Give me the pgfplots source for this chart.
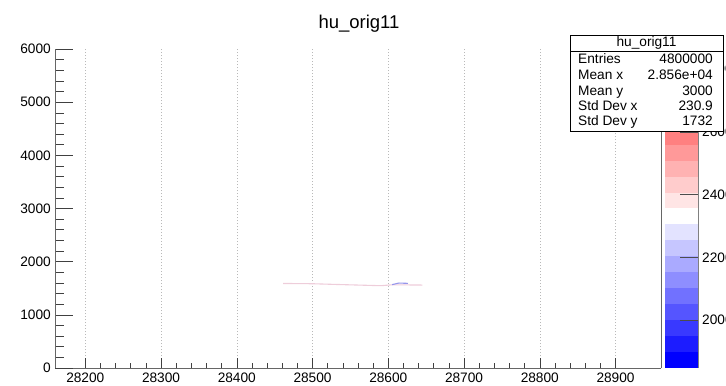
\documentclass[border=0pt]{standalone}
\usepackage{pgfplots}
\pgfplotsset{compat=1.18}
\usepackage{fontspec}
\setmainfont{Liberation Sans}
\newcommand\tl{\fontsize{13.7bp}{16bp}\selectfont}
\newcommand\band[3]{\addplot[draw=none, fill=#3] coordinates {(0,#1) (1,#1) (1,#2) (0,#2)} --cycle;}
\pgfplotsset{
  every axis/.append style={
    scale only axis, anchor=south west,
    axis line style={-},
    tick label style={font=\tl},
    /pgf/number format/assume math mode=true,
    scaled ticks=false,
    tick align=inside,
  }
}
\begin{document}
\begin{tikzpicture}
\path[use as bounding box] (0,0) rectangle (726bp,386bp);
% main axis: x ticks, grid, data
\begin{axis}[
  at={(55bp,18bp)}, width=606bp, height=319bp,
  xmin=28160, xmax=28960, ymin=0, ymax=6000,
  axis x line*=bottom, axis y line=none,
  x axis line style={black!60, line width=0.8bp},
  xtick={28200,28300,28400,28500,28600,28700,28800,28900},
  xticklabels={28200,28300,28400,28500,28600,28700,28800,28900},
  minor x tick num=4,
  major tick length=9.6bp, minor tick length=4.8bp,
  xtick style={black!75, line width=0.6bp},
  ytick=\empty,
  xmajorgrids,
  grid style={gray!55, line width=0.5bp, dash pattern=on 1.5bp off 1.5bp},
  xticklabel style={inner sep=0pt, yshift=-5bp},
  clip=false,
]
\addplot[color={rgb,255:red,238;green,205;blue,218}, line width=1.1bp] coordinates {
(28461,1590) (28500,1585) (28530,1572) (28560,1560) (28590,1548) (28605,1565) (28645,1560)};
\addplot[color={rgb,255:red,150;green,150;blue,235}, line width=1.1bp] coordinates {
(28605,1568) (28614,1598) (28626,1592)};
\draw[black!60, line width=0.8bp] (rel axis cs:1,0) -- (rel axis cs:1,1);
\end{axis}
% y ticks
\begin{axis}[
  at={(55bp,18bp)}, width=606bp, height=319bp,
  xmin=28160, xmax=28960, ymin=0, ymax=6000,
  axis x line=none, axis y line*=left,
  y axis line style={black!60, line width=0.8bp},
  xtick=\empty,
  ytick={0,1000,2000,3000,4000,5000,6000},
  yticklabels={0,1000,2000,3000,4000,5000,6000},
  minor y tick num=4,
  major tick length=18bp, minor tick length=9bp,
  ytick style={black!75, line width=0.6bp},
  yticklabel style={inner sep=0pt, xshift=-4bp},
]
\end{axis}
% colour bar
\begin{axis}[
  at={(665bp,18bp)}, width=33bp, height=319bp,
  xmin=0, xmax=1, ymin=1848, ymax=2864,
  axis x line=none, axis y line*=right,
  y axis line style={black!50, line width=0.5bp},
  axis on top,
  xtick=\empty,
  ytick={2000,2200,2400,2600,2800},
  yticklabels={2000,2200,2400,2600,2800},
  major tick length=18bp,
  ytick style={black!70, line width=0.6bp},
  yticklabel style={anchor=west, inner sep=0pt, xshift=4bp},
  clip=false,
]
\band{1848}{1898.8}{blue}
\band{1898.8}{1949.6}{blue!88.9!white}
\band{1949.6}{2000.4}{blue!77.8!white}
\band{2000.4}{2051.2}{blue!66.7!white}
\band{2051.2}{2102}{blue!55.6!white}
\band{2102}{2152.8}{blue!44.4!white}
\band{2152.8}{2203.6}{blue!33.3!white}
\band{2203.6}{2254.4}{blue!22.2!white}
\band{2254.4}{2305.2}{blue!11.1!white}
\band{2305.2}{2356}{white}
\band{2356}{2406.8}{red!10!white}
\band{2406.8}{2457.6}{red!20!white}
\band{2457.6}{2508.4}{red!30!white}
\band{2508.4}{2559.2}{red!40!white}
\band{2559.2}{2610}{red!50!white}
\band{2610}{2660.8}{red!60!white}
\band{2660.8}{2711.6}{red!70!white}
\band{2711.6}{2762.4}{red!80!white}
\band{2762.4}{2813.2}{red!90!white}
\band{2813.2}{2864}{red}
\end{axis}
% title
\node[anchor=base, font=\fontsize{18.5bp}{22bp}\selectfont] at (359bp,357bp) {hu\_orig11};
% stats box
\draw[fill=white, line width=0.7bp] (570bp,255bp) rectangle (723bp,351bp);
\draw[line width=0.7bp] (570bp,335bp) -- (723bp,335bp);
\node[anchor=base, font=\tl, inner sep=0pt] at (646.5bp,339bp) {hu\_orig11};
\begin{scope}[every node/.style={font=\tl, inner sep=0pt}]
\node[anchor=base west] at (578bp,322bp) {Entries};
\node[anchor=base east] at (713bp,322bp) {4800000};
\node[anchor=base west] at (578bp,306bp) {Mean x};
\node[anchor=base east] at (713bp,306bp) {2.856e+04};
\node[anchor=base west] at (578bp,290.5bp) {Mean y};
\node[anchor=base east] at (713bp,290.5bp) {3000};
\node[anchor=base west] at (578bp,275bp) {Std Dev x};
\node[anchor=base east] at (713bp,275bp) {230.9};
\node[anchor=base west] at (578bp,260.5bp) {Std Dev y};
\node[anchor=base east] at (713bp,260.5bp) {1732};
\end{scope}
\end{tikzpicture}
\end{document}
